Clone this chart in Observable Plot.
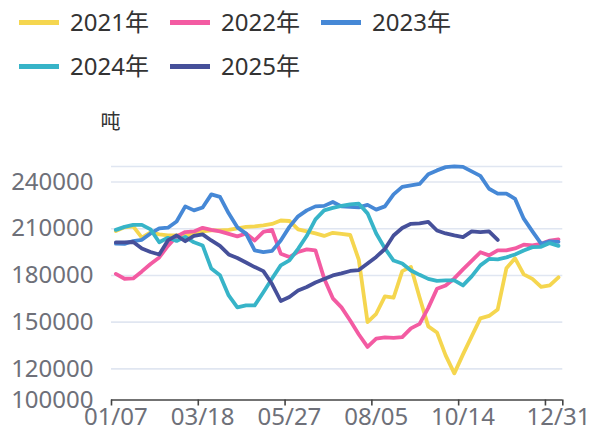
<!DOCTYPE html>
<html><head><meta charset="utf-8">
<script src="https://cdn.jsdelivr.net/npm/d3@7"></script>
<script src="https://cdn.jsdelivr.net/npm/@observablehq/plot@0.6"></script>
<style>
body{margin:0;background:#fff;font-family:"Noto Sans","Noto Sans CJK SC",sans-serif;}
#legend{position:relative;width:592px;height:88px;}
.item{position:absolute;display:flex;align-items:center;height:44px;}
.sw{width:40px;height:5px;margin-right:11px;}
.lab{font-size:24px;color:#333;line-height:44px;}
</style></head><body>
<div id="legend"></div><div id="chart"></div>
<script>
const categories = ["01/07","01/14","01/21","01/28","02/04","02/11","02/18","02/25","03/04","03/11",
"03/18","03/25","04/01","04/08","04/15","04/22","04/29","05/06","05/13","05/20",
"05/27","06/03","06/10","06/17","06/24","07/01","07/08","07/15","07/22","07/29",
"08/05","08/12","08/19","08/26","09/02","09/09","09/16","09/23","09/30","10/07",
"10/14","10/21","10/28","11/04","11/11","11/18","11/25","12/02","12/09","12/16",
"12/23","12/31"];
const years = ["2021年","2022年","2023年","2024年","2025年"];
const colors = ["#f5d64f","#f35ba2","#4688d6","#37b4c8","#46509a"];
const y2021 = [208600,210900,211500,204300,207700,206400,205800,205800,205800,206400,
208300,209000,209000,209300,210300,211200,211500,212200,213100,215300,
215000,209600,208300,207000,205400,207400,206700,206000,190000,150100,
155400,166600,165700,182800,185500,165900,147300,143400,128700,117100,
129300,140900,152400,154000,158200,184600,191000,180700,177800,172700,
173600,178800];
const y2022 = [181000,177900,178100,182600,187400,191600,199000,205100,207900,208300,
210600,209300,208300,206700,205100,207000,202500,208000,209300,194000,
191800,195100,196800,196100,178100,165300,159500,151100,142100,134100,
139500,140200,139900,140400,146000,148900,159200,171400,173600,178100,
183900,189400,194900,192900,196100,196100,197400,199800,199300,200300,
202400,203200];
const y2023 = [200400,200300,202100,202900,207000,210300,210700,214700,224400,221800,
223700,232100,230500,219900,210900,206900,196100,195000,195800,202500,
211200,218000,221800,224400,224700,227200,224400,224100,223700,225300,
222300,224400,232100,236900,237900,238800,245000,247500,249600,250100,
249800,246900,244000,235700,232600,232600,229200,216500,208300,200400,
201900,201600];
const y2024 = [209300,211200,212500,212500,209600,201300,204200,202200,204800,201300,
199300,184400,180100,167200,159500,160800,160800,169200,178000,186500,
189700,197100,205500,216000,221800,223400,224700,225700,226100,219900,
207000,197400,189600,187700,183200,180400,177800,176500,176800,176800,
173600,179400,186500,190600,190300,191600,193500,196100,198200,198400,
200800,199000];
const y2025 = [201200,201200,201500,197300,195100,193500,202500,205700,202000,205400,
206400,202500,199000,193500,191200,188300,185400,182800,174500,163600,
166200,170300,172600,175500,177700,180000,181300,182900,183500,187700,
191900,197000,205700,210500,213200,213400,214400,208900,207000,205700,
204600,208300,207900,208300,202800];
const yTickLabels = [100000,120000,150000,180000,210000,240000];
const gridValues = [120000,150000,180000,210000,240000,250000];
const xLabelIdx = [0,10,20,30,40,51];
const xTickPos = [-0.5,9.5,19.5,29.5,39.5,49.5,51.5];
const unit = "吨";

const series = [y2021,y2022,y2023,y2024,y2025];
const table = [];
series.forEach((arr,k)=>arr.forEach((v,i)=>table.push({year:years[k], i, value:v})));

// legend
const lg = document.getElementById("legend");
years.forEach((y,k)=>{
  const row = k<3 ? 0 : 1, col = k<3 ? k : k-3;
  const it = document.createElement("div");
  it.className="item";
  it.style.left = (19 + col*151) + "px";
  it.style.top = (row*44) + "px";
  it.innerHTML = `<div class="sw" style="background:${colors[k]}"></div><div class="lab">${y}</div>`;
  lg.appendChild(it);
});

const ff = '"Noto Sans","Noto Sans CJK SC",sans-serif';
const chart = Plot.plot({
  width: 592, height: 348,
  marginLeft: 111, marginRight: 29.7, marginTop: 78, marginBottom: 36.5,
  style: {fontFamily: ff, fontSize: "24px", color: "#6e7079", background: "#fff", overflow: "visible"},
  x: {type: "linear", domain: [-0.5, categories.length - 0.5], label: null},
  y: {domain: [100000, 250000], label: null},
  color: {domain: years, range: colors},
  marks: [
    Plot.ruleY(gridValues, {stroke: "#e0e6f1", strokeWidth: 1.6}),
    Plot.line(table, {x: "i", y: "value", z: "year", stroke: "year", strokeWidth: 3.8, strokeLinejoin: "round", strokeLinecap: "round"}),
    Plot.ruleY([100000], {stroke: "#444", strokeWidth: 1.6}),
    Plot.axisX(xTickPos, {tickSize: 6, tickFormat: () => "", stroke: "#444", strokeWidth: 1.6, label: null}),
    Plot.axisX(xLabelIdx, {tickSize: 0, tickPadding: 8, tickFormat: i => categories[i], fill: "#6e7079", label: null}),
    Plot.axisY(yTickLabels, {tickSize: 0, tickPadding: 18, tickFormat: d => String(d), fill: "#6e7079", label: null}),
    Plot.text([unit], {frameAnchor: "top-left", textAnchor: "middle", lineAnchor: "middle", dx: -1, dy: -44, fill: "#333", fontSize: 20, fontFamily: '"Noto Sans CJK SC",sans-serif'})
  ]
});
document.getElementById("chart").appendChild(chart);
</script>
</body></html>
